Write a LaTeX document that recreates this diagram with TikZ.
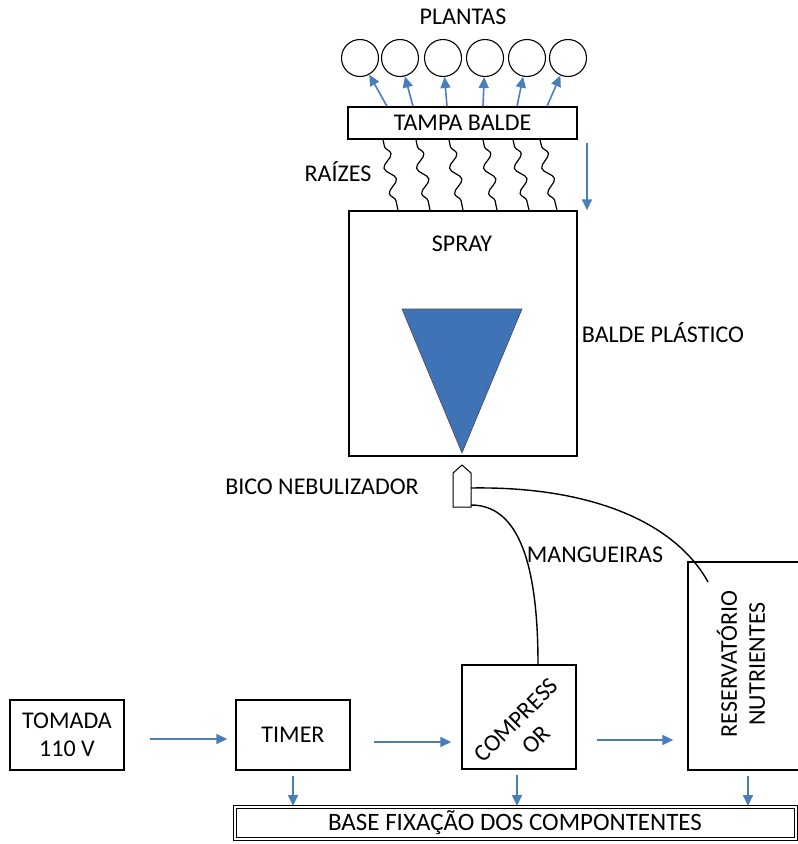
\documentclass[tikz,border=0pt]{standalone}
\usepackage{fontspec}
\setmainfont{Carlito}
\usetikzlibrary{arrows.meta, decorations.pathmorphing, positioning, calc}
\definecolor{setaazul}{HTML}{4A7EBB}
\definecolor{coneazul}{HTML}{3F73B6}

\begin{document}
\begin{tikzpicture}[x=1pt, y=-1pt,
    texto/.style={font=\fontsize{24}{28}\selectfont},
    caixa/.style={draw, line width=1.4pt, texto, inner sep=0pt},
    planta/.style={draw, line width=1.1pt, circle, minimum size=37pt, inner sep=0pt},
    seta/.style={setaazul, line width=1.6pt, -{Triangle[length=11pt, width=10pt]}},
    raiz/.style={line width=1.2pt, decorate, decoration={snake, amplitude=5pt, segment length=26pt, pre length=7pt, post length=7pt}},
    mangueira/.style={line width=1.4pt}]
  \useasboundingbox (0,0) rectangle (798,844);

  % plantas e tampa
  \node[texto] (plantas) at (463,17) {PLANTAS};
  \foreach \i/\x in {1/360, 2/400, 3/443, 4/485, 5/527, 6/568}
    \node[planta] (p\i) at (\x,58) {};
  \node[caixa, minimum width=229pt, minimum height=32pt] (tampa) at (462.5,123) {TAMPA BALDE};
  \foreach \i/\x in {1/387, 2/413, 3/447, 4/483, 5/517, 6/547}
    \draw[seta] (\x,0 |- tampa.north) -- (p\i);

  % balde plastico
  \node[caixa, minimum width=228pt, minimum height=245pt] (balde) at (463,333.5) {};
  \node[texto] (spray) at (462,244) {SPRAY};
  \fill[coneazul, draw=black!70, line width=0.6pt] (402,309) -- (522,309) -- (462,453) -- cycle;
  \node[texto] (baldetxt) at (663,333) {BALDE PLÁSTICO};

  % raizes
  \node[texto] (raizes) at (338,172) {RAÍZES};
  \foreach \xa/\xb in {383/398, 416/430, 449/463, 483/497, 513/529, 540/557}
    \draw[raiz] (\xa,0 |- tampa.south) -- (\xb,0 |- balde.north);
  \draw[seta] (587,143) -- (587,0 |- balde.north);

  % bico nebulizador
  \draw[line width=1pt, fill=white] (453,507) -- (453,473) -- (462,465) -- (471,473) -- (471,507) -- cycle;
  \coordinate (bico1) at (471,488);
  \coordinate (bico2) at (471,505);
  \node[texto] (bico) at (322,487) {BICO NEBULIZADOR};

  % componentes
  \node[caixa, minimum width=114pt, minimum height=70pt, align=center] (tomada) at (67,735) {TOMADA\\110 V};
  \node[caixa, minimum width=114pt, minimum height=70pt] (timer) at (293,735) {TIMER};
  \node[caixa, minimum width=114pt, minimum height=104pt] (compressor) at (519,717) {};
  \node[texto, rotate=45, align=center, inner sep=0pt] (comptxt) at (526,730) {COMPRESS\\OR};
  \node[caixa, minimum width=111pt, minimum height=208pt] (reserv) at (743.5,666) {};
  \node[texto, rotate=90, align=center, inner sep=0pt] (restxt) at (741,664) {RESERVATÓRIO\\NUTRIENTES};

  % mangueiras
  \node[texto] (mangueiras) at (595,555) {MANGUEIRAS};
  \draw[mangueira] (bico1) .. controls (590,486) and (675,522) .. (708,582);
  \draw[mangueira] (bico2) .. controls (515,505) and (538,555) .. (compressor.north -| 538,0);

  % setas horizontais
  \draw[seta, shorten >=8pt] (150,739) -- (timer.west |- 0,739);
  \draw[seta, shorten >=10pt] (374,742) -- (compressor.west |- 0,742);
  \draw[seta, shorten >=14pt] (597,740) -- (reserv.west |- 0,740);

  % base
  \node[draw, line width=1pt, double, double distance=2pt, minimum width=561pt, minimum height=32pt, font=\fontsize{25}{28}\selectfont] (base) at (515,822.5) {BASE FIXAÇÃO DOS COMPONTENTES};
  \foreach \n/\x in {timer/293, compressor/517, reserv/748}
    \draw[seta] (\x,0 |- \n.south) ++(0,5) -- (\x,0 |- base.north);
\end{tikzpicture}
\end{document}
